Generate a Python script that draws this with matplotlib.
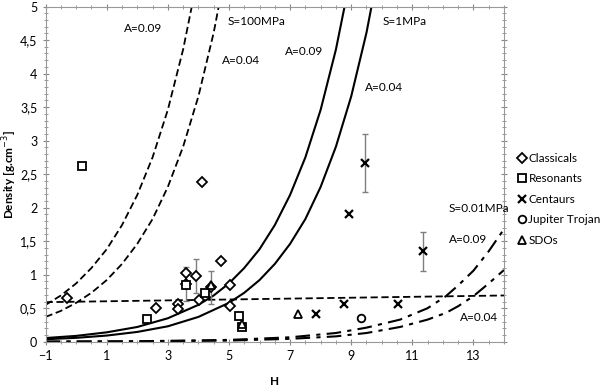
import matplotlib
matplotlib.use('Agg')
import matplotlib.pyplot as plt
from matplotlib.ticker import MultipleLocator, FuncFormatter

plt.rcParams['font.family'] = ['Lato', 'DejaVu Sans']

# observed objects (H, density)
classical_h = [-0.31, 2.62, 3.33, 3.33, 3.61, 3.61, 3.93, 4.02, 4.13, 4.42, 4.73, 5.02, 5.02]
classical_rho = [0.65, 0.50, 0.57, 0.49, 1.02, 0.86, 0.98, 0.62, 2.38, 0.82, 1.21, 0.85, 0.53]
resonant_h = [0.18, 2.32, 3.61, 4.22, 5.33, 5.43]
resonant_rho = [2.62, 0.34, 0.85, 0.73, 0.38, 0.22]
centaur_h = [7.85, 8.75, 8.94, 9.44, 10.53, 11.36]
centaur_rho = [0.41, 0.56, 1.91, 2.67, 0.56, 1.35]
trojan_h = [9.33]
trojan_rho = [0.35]
sdo_h = [4.42, 5.43, 7.25]
sdo_rho = [0.85, 0.27, 0.42]

# error bars: (H, centre, lower, upper)
err_h = [3.61, 3.93, 4.42, 9.44, 11.36]
err_mid = [0.86, 0.98, 0.81, 2.67, 1.35]
err_lo = [0.25, 0.25, 0.24, 0.44, 0.30]
err_hi = [0.25, 0.25, 0.24, 0.43, 0.29]

# model curves
s100_a09_h = [-1, -0.5, 0, 0.5, 1, 1.5, 2, 2.5, 3, 3.5, 4]
s100_a09_rho = [0.55, 0.69, 0.87, 1.10, 1.38, 1.74, 2.19, 2.75, 3.46, 4.36, 5.49]
s100_a04_h = [-1, -0.5, 0, 0.5, 1, 1.5, 2, 2.5, 3, 3.5, 4, 4.5, 5]
s100_a04_rho = [0.37, 0.46, 0.58, 0.73, 0.92, 1.16, 1.46, 1.83, 2.31, 2.91, 3.66, 4.61, 5.80]
s1_a09_h = [-1, 0, 1, 2, 3, 4, 4.5, 5, 5.5, 6, 6.5, 7, 7.5, 8, 8.5, 9]
s1_a09_rho = [0.055, 0.087, 0.14, 0.22, 0.35, 0.55, 0.69, 0.87, 1.10, 1.38, 1.74, 2.19, 2.75, 3.46, 4.36, 5.49]
s1_a04_h = [-1, 0, 1, 2, 3, 4, 5, 5.5, 6, 6.5, 7, 7.5, 8, 8.5, 9, 9.5, 10]
s1_a04_rho = [0.037, 0.058, 0.092, 0.146, 0.23, 0.37, 0.58, 0.73, 0.92, 1.16, 1.46, 1.83, 2.31, 2.91, 3.66, 4.61, 5.80]
s001_a09_h = [-1, 2, 5, 7, 8.5, 9.5, 10.6, 11.5, 12.1, 12.5, 13, 13.5, 14]
s001_a09_rho = [0.002, 0.007, 0.027, 0.066, 0.13, 0.21, 0.33, 0.50, 0.68, 0.84, 1.06, 1.35, 1.68]
s001_a04_h = [-1, 2, 5, 7, 8.5, 9.5, 10.6, 11.5, 12.1, 12.5, 13, 13.5, 14]
s001_a04_rho = [0.001, 0.005, 0.017, 0.043, 0.08, 0.13, 0.22, 0.33, 0.43, 0.53, 0.68, 0.87, 1.07]
trend_h = [-1, 14]
trend_rho = [0.59, 0.69]

x_ticks = [-1, 1, 3, 5, 7, 9, 11, 13]

fig = plt.figure(figsize=(6, 3.87), dpi=100)
ax = fig.add_axes([0.076, 0.117, 0.764, 0.866])

# curves
dash = (0, (4, 2))
dashdot = (0, (7, 3, 2, 3))
ax.plot(s100_a09_h, s100_a09_rho, color='black', lw=1.3, linestyle=dash)
ax.plot(s100_a04_h, s100_a04_rho, color='black', lw=1.3, linestyle=dash)
ax.plot(s1_a09_h, s1_a09_rho, color='black', lw=1.5)
ax.plot(s1_a04_h, s1_a04_rho, color='black', lw=1.5)
ax.plot(s001_a09_h, s001_a09_rho, color='black', lw=1.5, linestyle=dashdot)
ax.plot(s001_a04_h, s001_a04_rho, color='black', lw=1.5, linestyle=dashdot)
ax.plot(trend_h, trend_rho, color='black', lw=1.3, linestyle=dash)

# error bars
ax.errorbar(err_h, err_mid, yerr=[err_lo, err_hi], fmt='none', ecolor='#7f7f7f',
            elinewidth=1.0, capsize=2, capthick=1.0, zorder=2)

mk = dict(linestyle='none', markerfacecolor='white', markeredgecolor='black',
          markeredgewidth=1.3, zorder=3)
ax.plot(classical_h, classical_rho, marker='D', markersize=5, label='Classicals', **mk)
ax.plot(resonant_h, resonant_rho, marker='s', markersize=6, label='Resonants', **mk)
ax.plot(centaur_h, centaur_rho, marker='x', markersize=5.5, color='black',
        linestyle='none', markeredgewidth=1.6, label='Centaurs', zorder=3)
ax.plot(trojan_h, trojan_rho, marker='o', markersize=5.5, label='Jupiter Trojan', **mk)
ax.plot(sdo_h, sdo_rho, marker='^', markersize=5.5, label='SDOs', **mk)

# annotations
fs = 8.5
ax.text(2.2, 4.67, 'A=0.09', fontsize=fs, ha='center', va='center')
ax.text(5.9, 4.77, 'S=100MPa', fontsize=fs, ha='center', va='center')
ax.text(5.38, 4.19, 'A=0.04', fontsize=fs, ha='center', va='center')
ax.text(7.46, 4.33, 'A=0.09', fontsize=fs, ha='center', va='center')
ax.text(10.74, 4.77, 'S=1MPa', fontsize=fs, ha='center', va='center')
ax.text(10.08, 3.80, 'A=0.04', fontsize=fs, ha='center', va='center')
ax.text(13.18, 1.99, 'S=0.01MPa', fontsize=fs, ha='center', va='center')
ax.text(12.81, 1.53, 'A=0.09', fontsize=fs, ha='center', va='center')
ax.text(13.17, 0.36, 'A=0.04', fontsize=fs, ha='center', va='center')

# axes
ax.set_xlim(-1, 14)
ax.set_ylim(0, 5)
ax.set_xticks(x_ticks)
ax.xaxis.set_minor_locator(MultipleLocator(0.5))
ax.yaxis.set_major_locator(MultipleLocator(0.5))
ax.yaxis.set_minor_locator(MultipleLocator(0.1))
ax.yaxis.set_major_formatter(FuncFormatter(lambda v, p: ('%g' % v).replace('.', ',')))
ax.tick_params(which='both', direction='inout', colors='#888888', labelcolor='black',
               labelsize=9, top=True, right=True)
ax.tick_params(which='major', length=5)
ax.tick_params(which='minor', length=3)
for sp in ax.spines.values():
    sp.set_color('#999999')

ax.set_xlabel('H', fontsize=8.5, fontweight='bold', labelpad=10)
ax.set_ylabel('Density [g.cm$^{-3}$]', fontsize=8.5, fontweight='bold', labelpad=1)

fig.legend(loc='upper left', bbox_to_anchor=(0.862, 0.605), frameon=False,
           fontsize=8.5, handlelength=0.8, handletextpad=0.15, labelspacing=0.8,
           borderaxespad=0, borderpad=0)

fig.savefig('out.png', dpi=100, facecolor='white')
